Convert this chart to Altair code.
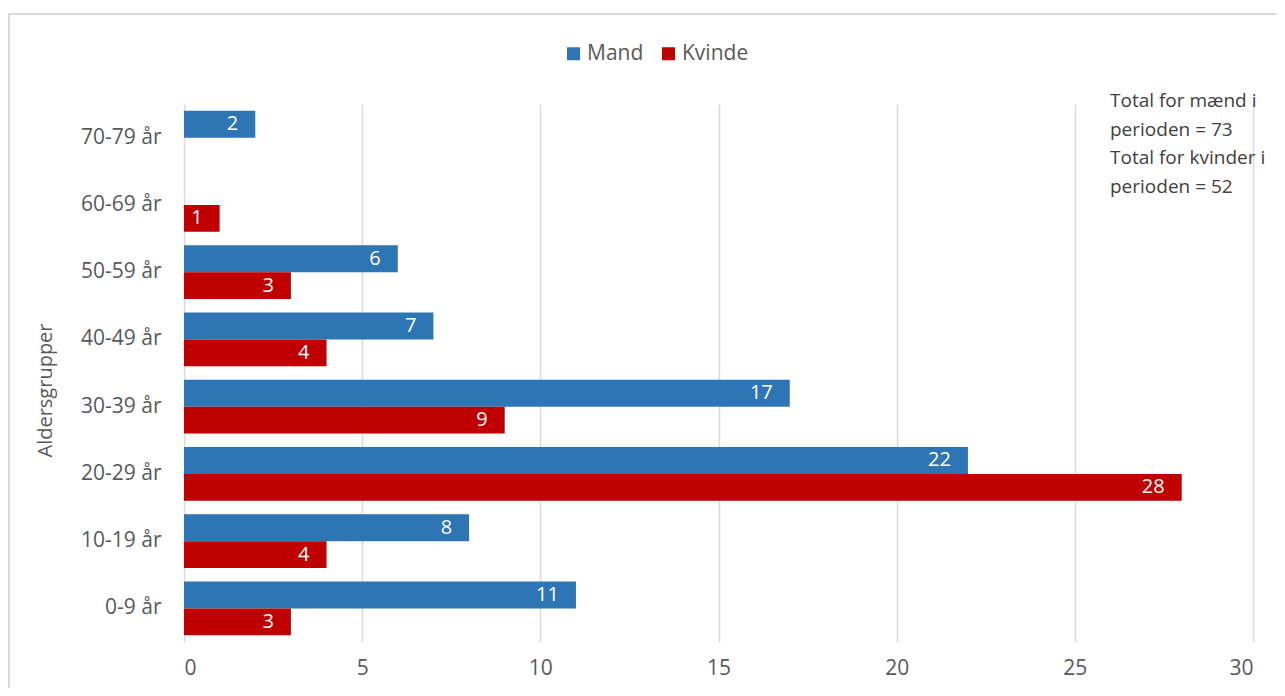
import altair as alt
import pandas as pd

groups = ["0-9 år", "10-19 år", "20-29 år", "30-39 år", "40-49 år", "50-59 år", "60-69 år", "70-79 år"]
mand = [11, 8, 22, 17, 7, 6, None, 2]
kvinde = [3, 4, 28, 9, 4, 3, 1, None]
series = ["Mand", "Kvinde"]
colors = ["#2E75B6", "#C00000"]
note_lines = ["Total for mænd i", "perioden = 73", "Total for kvinder i", "perioden = 52"]
x_ticks = [0, 5, 10, 15, 20, 25, 30]

rows = []
for g, m, k in zip(groups, mand, kvinde):
    if m is not None:
        rows.append({"group": g, "series": "Mand", "value": m})
    if k is not None:
        rows.append({"group": g, "series": "Kvinde", "value": k})
df = pd.DataFrame(rows)

order_top_down = list(reversed(groups))
FONT = "Open Sans"
GREY = "#595959"

y_enc = alt.Y(
    "group:N",
    sort=order_top_down,
    scale=alt.Scale(domain=order_top_down, paddingInner=0.2, paddingOuter=0.1),
    axis=alt.Axis(
        title="Aldersgrupper",
        domain=False,
        grid=False,
        ticks=False,
        labelPadding=23,
        labelFontSize=21,
        labelColor=GREY,
        labelFont=FONT,
        titleFont=FONT,
        titleFontSize=20,
        titleFontWeight="normal",
        titleColor=GREY,
        titleAngle=270,
        titleX=-139,
        titleY=286,
        titleAlign="center",
        titleBaseline="middle",
    ),
)
yoff_enc = alt.YOffset("series:N", sort=series, scale=alt.Scale(domain=series))
x_enc = alt.X(
    "value:Q",
    scale=alt.Scale(domain=[0, 30], nice=False, zero=True),
    axis=alt.Axis(
        values=x_ticks,
        title=None,
        grid=True,
        gridColor="#d9d9d9",
        gridWidth=1.5,
        domain=False,
        ticks=False,
        labelPadding=15,
        labelFontSize=21,
        labelColor=GREY,
        labelFont=FONT,
    ),
)

base = alt.Chart(df)

bars = base.mark_bar().encode(
    x=x_enc,
    y=y_enc,
    yOffset=yoff_enc,
    color=alt.Color(
        "series:N",
        scale=alt.Scale(domain=series, range=colors),
        legend=alt.Legend(
            orient="none",
            legendX=379,
            legendY=-61,
            direction="horizontal",
            title=None,
            symbolType="square",
            symbolSize=169,
            symbolStrokeWidth=0,
            labelFontSize=21,
            labelColor=GREY,
            labelFont=FONT,
            columnPadding=14,
            labelOffset=3,
            padding=0,
        ),
    ),
)

labels = base.mark_text(
    align="right", baseline="middle", dx=-17, color="white", fontSize=20, font=FONT
).encode(
    x="value:Q",
    y=alt.Y("group:N", sort=order_top_down),
    yOffset=alt.YOffset("series:N", sort=series),
    text="value:Q",
)

note = alt.Chart(pd.DataFrame({"t": ["\n".join(note_lines)]})).mark_text(
    align="left",
    baseline="middle",
    lineBreak="\n",
    lineHeight=28.5,
    fontSize=19,
    font=FONT,
    color="#404040",
).encode(x=alt.value(926), y=alt.value(-3), text="t:N")

frame = alt.Chart(pd.DataFrame({"f": [0]})).mark_rect(
    filled=False, stroke="#d9d9d9", strokeWidth=2
).encode(x=alt.value(-175), x2=alt.value(1300), y=alt.value(-90), y2=alt.value(700))

chart = (
    alt.layer(frame, bars, labels, note)
    .properties(
        width=1069,
        height=538,
        autosize=alt.AutoSizeParams(type="none"),
        padding={"left": 176, "top": 96, "right": 24, "bottom": 46},
        background="white",
    )
    .configure(font=FONT)
    .configure_view(strokeWidth=0, stroke="transparent")
    .configure_axis(domain=False)
)

chart.save("out.html", embed_options={"renderer": "svg", "actions": False})
